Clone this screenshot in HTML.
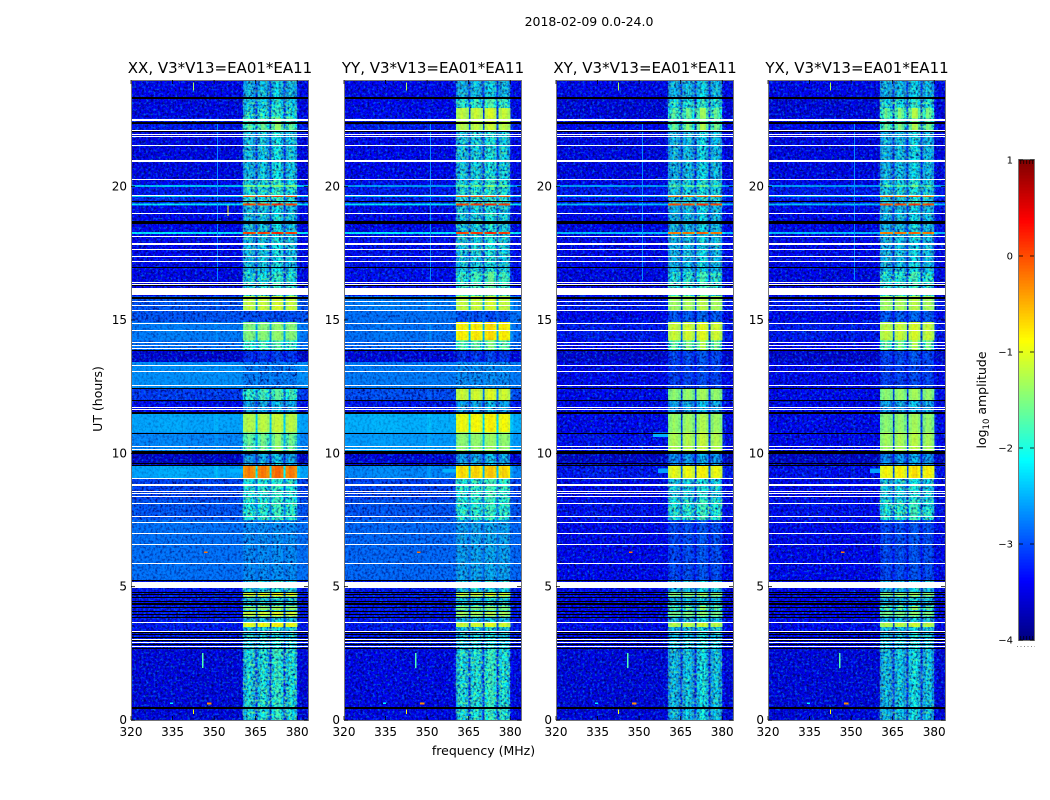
<!DOCTYPE html>
<html lang="en">
<head>
<meta charset="utf-8">
<title>2018-02-09 0.0-24.0</title>
<style>
html,body{margin:0;padding:0;background:#fff;width:1050px;height:800px;overflow:hidden}
svg{display:block}
text{font-family:"DejaVu Sans","Liberation Sans",sans-serif;fill:#000}
</style>
</head>
<body>
<svg id="figure" width="1050" height="800" viewBox="0 0 1050 800" xmlns="http://www.w3.org/2000/svg">
<defs>
<filter id="speckle-dark" x="0" y="0" width="100%" height="100%" color-interpolation-filters="sRGB">
<feTurbulence type="fractalNoise" baseFrequency="0.43 0.39" numOctaves="2" seed="3"/>
<feColorMatrix type="matrix" values="0 0 0 0 0  0 0 0 0 0  0 0 0 0 0.4  2.4 0 0 0 -1"/>
</filter>
<filter id="speckle-light" x="0" y="0" width="100%" height="100%" color-interpolation-filters="sRGB">
<feTurbulence type="fractalNoise" baseFrequency="0.41 0.44" numOctaves="2" seed="11"/>
<feColorMatrix type="matrix" values="0 0 0 0 0  0 0 0 0 0.6  0 0 0 0 1  0 1.9 0 0 -0.95"/>
</filter>
<filter id="speckle-green" x="0" y="0" width="100%" height="100%" color-interpolation-filters="sRGB">
<feTurbulence type="fractalNoise" baseFrequency="0.38 0.42" numOctaves="2" seed="23"/>
<feColorMatrix type="matrix" values="0 0 0 0 0.45  0 0 0 0 1  0 0 0 0 0.5  0 0 2.4 0 -1"/>
</filter>
</defs>
<rect width="1050" height="800" fill="#fff"/>
<text x="589" y="26" font-size="12.5" text-anchor="middle">2018-02-09 0.0-24.0</text>
<text x="483.5" y="755" font-size="12.5" text-anchor="middle">frequency (MHz)</text>
<text x="0" y="0" font-size="12.5" text-anchor="middle" transform="translate(102,399) rotate(-90)">UT (hours)</text>
<text x="0" y="0" font-size="12.5" text-anchor="middle" transform="translate(986,400) rotate(-90)">log<tspan font-size="8.5" dy="3">10</tspan><tspan dy="-3"> amplitude</tspan></text>
<g id="panels"></g>
<g id="colorbar"></g>
</svg>
<script>
// ---- axis tick data ----
const freqTicks = [320, 335, 350, 365, 380];
const hourTicks = [0, 5, 10, 15, 20];
const colorTicks = [1, 0, -1, -2, -3, -4];
const panelTitles = ['XX, V3*V13=EA01*EA11', 'YY, V3*V13=EA01*EA11', 'XY, V3*V13=EA01*EA11', 'YX, V3*V13=EA01*EA11'];

// ---- spectral channels (MHz edges) and how strongly each follows the RFI level ----
const channelEdges = [320,330,340,350,350.7,351.4,360.4,361,362,363,364,365,365.7,367,368,369,370,370.7,372,373,374,375,375.7,377,378,379,380,381,384];
const channelWeights = [0,0.02,0,0.04,0.06,0,0.65,0.85,1.05,0.9,0.75,0.2,0.9,1.1,1,0.75,0.15,1,1.22,1.22,0.95,0.18,0.85,1.08,1,0.75,0.08,0];

// ---- time bands: top of each band in hours (band ends at next value, last at 0) ----
const bandTops = [24,23.36,22.95,22.58,22.39,22.13,20.25,20.06,19.99,19.68,19.63,19.36,19.31,18.3,18.23,16.8,15.9,15.34,14.93,14.25,13.88,13.43,12.45,12,11.55,10.8,10.05,9.53,9.08,8.25,7.5,5.25,4.8,4.65,4.28,4.13,4.05,3.9,3.68,3.49,2.7];

// ---- log10 amplitude: quiet part of the band and RFI part of the band ----
const bgXX = [-3.4,-3.45,-3.45,-3.3,-3.3,-3.45,-3.4,-2.4,-3.3,-2.2,-3.2,-2.2,-3.4,-2.2,-3.4,-3.45,-2.95,-2.95,-2.75,-2.8,-3.55,-2.65,-3.1,-3.35,-2.55,-2.7,-3.6,-2.55,-3.05,-2.95,-2.8,-3.3,-3.3,-3.3,-3.3,-3.3,-3.3,-3.3,-3.3,-3.3,-3.5];
const rfiXX = [-2.4,-2.3,-2.2,-1.8,-1.7,-2.35,-2.2,-1.5,-2.2,0,-2.2,0.1,-2.35,0.1,-2.35,-2.2,-1.15,-3,-1.45,-1.9,-3.1,-2.75,-1.9,-2.5,-1.2,-1.6,-2.5,-0.25,-2.1,-2.05,-2.65,-2.3,-1,-2.3,-1.4,-2.3,-1.1,-2.4,-0.95,-2.3,-2.2];
const bgYY = [-3.4,-3.4,-3.4,-3.3,-3.3,-3.4,-3.35,-2.6,-3.3,-2.3,-3.25,-2.2,-3.4,-2.2,-3.35,-3.35,-2.75,-2.8,-2.8,-2.85,-3.5,-2.75,-3,-3.3,-2.5,-2.6,-3.5,-2.7,-3.05,-2.95,-2.85,-3.3,-3.3,-3.3,-3.3,-3.3,-3.3,-3.3,-3.3,-3.3,-3.45];
const rfiYY = [-2.4,-2,-1.15,-1.2,-1.2,-2.3,-2.2,-1.6,-2.2,-0.1,-2.2,0.1,-2.3,0.1,-2.3,-1.9,-1.15,-3,-0.8,-1.7,-3.1,-2.65,-1.1,-2.5,-0.9,-1.4,-2.5,-0.7,-2,-2.05,-2.55,-2.3,-1.1,-2.3,-1.5,-2.3,-1.3,-2.4,-1.1,-2.3,-2.15];
const bgXY = [-3.4,-3.5,-3.5,-3.4,-3.4,-3.45,-3.4,-2.6,-3.3,-2.4,-3.3,-2.4,-3.4,-2.4,-3.4,-3.45,-3.3,-3.4,-3.3,-3.4,-3.55,-3.4,-3.4,-3.4,-3.4,-3.35,-3.6,-3.3,-3.4,-3.35,-3.4,-3.4,-3.4,-3.4,-3.4,-3.4,-3.4,-3.4,-3.4,-3.4,-3.5];
const rfiXY = [-2.4,-2.2,-1.7,-1.8,-1.6,-2.4,-2.3,-1.7,-2.3,-0.2,-2.3,0.05,-2.4,-0.2,-2.4,-2.1,-1.3,-2.9,-1.1,-1.6,-3,-3.05,-1.4,-2.5,-1.35,-1.25,-2.6,-0.95,-2.3,-2.1,-3,-2.4,-1.4,-2.4,-1.7,-2.4,-1.5,-2.4,-1.2,-2.35,-2.35];
const bgYX = [-3.4,-3.5,-3.5,-3.4,-3.4,-3.45,-3.4,-2.6,-3.3,-2.4,-3.3,-2.4,-3.4,-2.4,-3.4,-3.45,-3.3,-3.4,-3.3,-3.4,-3.55,-3.4,-3.4,-3.4,-3.4,-3.4,-3.6,-3.35,-3.4,-3.35,-3.4,-3.4,-3.4,-3.4,-3.4,-3.4,-3.4,-3.4,-3.4,-3.4,-3.5];
const rfiYX = [-2.4,-2.2,-1.6,-1.8,-1.6,-2.4,-2.3,-1.7,-2.3,-0.2,-2.3,0.05,-2.4,-0.2,-2.4,-2.1,-1.3,-2.9,-1.15,-1.6,-3,-3.05,-1.4,-2.5,-1.4,-1.3,-2.6,-0.85,-2.3,-2.1,-3,-2.4,-1.4,-2.4,-1.7,-2.4,-1.5,-2.4,-1.2,-2.35,-2.35];
const panelBg = [bgXX, bgYY, bgXY, bgYX];
const panelRfi = [rfiXX, rfiYY, rfiXY, rfiYX];

// ---- isolated features: panel list, frequency, hour from, hour to, log10 amplitude, width in MHz ----
const spikePanels = [[0,1,2,3],[0,1,2,3],[0],[0,1,2,3],[0,1,2,3],[0,1,2,3],[0,1,2,3],[0,1],[2,3],[2],[0,1,2,3]];
const spikeFreqs = [345.6, 351, 354.8, 342.4, 342.4, 347.5, 346.3, 355.6, 356.8, 355, 334];
const spikeFrom = [1.95, 16.5, 18.9, 0.22, 23.6, 0.58, 6.26, 9.28, 9.26, 10.62, 0.6];
const spikeTo = [2.52, 22.4, 19.3, 0.4, 23.9, 0.66, 6.32, 9.42, 9.44, 10.78, 0.66];
const spikeValues = [-1.75, -2.7, -0.9, -0.9, -1.3, -0.3, -0.2, -2.5, -2.6, -2.5, -2.2];
const spikeWidths = [0.5, 0.45, 0.4, 0.4, 0.35, 1.6, 1.4, 4.8, 3.6, 5.4, 1.2];

// ---- flagged rows: blank (white) and zero (black) integrations ----
const whiteRows = [22.55,22.49,22.14,21.98,21.89,21.55,20.99,20.95,20.28,19.7,19,18.14,17.89,17.84,17.66,17.39,17.2,16.44,16.36,15.7,15.55,15.38,14.88,14.63,14.16,14.06,13.94,13.31,13.09,12.56,11.75,11.65,10.29,10.15,9.08,8.86,8.82,8.58,8.5,8.41,8.13,7.64,7.41,7,6.59,5.88,3.66,3.35,3.04,2.91,2.76];
const whiteBlockTops = [16.21, 5.19];
const whiteBlockEnds = [15.93, 4.96];
const blackRows = [23.37,23.31,22.43,22.38,22.1,19.47,17,16.31,13.88,12.44,12,10.75,9.64,9.56,5.25,4.81,4.71,4.6,4.46,4.39,4.34,4.25,4.1,3.98,3.85,3.29,3.21,3.12,2.99,2.84,2.7];
const blackBlockTops = [18.71, 15.88, 11.55, 10.09, 0.47];
const blackBlockEnds = [18.6, 15.81, 11.48, 9.98, 0.39];

// ---- layout ----
const svgNS = 'http://www.w3.org/2000/svg';
const panelLeft = [131, 344, 556, 768];
const panelWidth = 177;
const plotTop = 80, plotBottom = 720;
const freqMin = 320, pxPerMHz = 2.77;
const hourMax = 24;
const rowHeightHours = 0.05;
const rfiStartFreq = 360.4, rfiEndFreq = 380;

function xScale(f, left) { return left + (f - freqMin) * pxPerMHz; }
function yScale(h) { return plotBottom - (h / hourMax) * (plotBottom - plotTop); }
function clip01(v) { return Math.max(0, Math.min(1, v)); }
function jet(logAmp) {
  const x = clip01((logAmp + 4) / 5);
  const r = clip01(Math.min(4 * x - 1.5, -4 * x + 4.5));
  const g = clip01(Math.min(4 * x - 0.5, -4 * x + 3.5));
  const b = clip01(Math.min(4 * x + 0.5, -4 * x + 2.5));
  return 'rgb(' + Math.round(r * 255) + ',' + Math.round(g * 255) + ',' + Math.round(b * 255) + ')';
}
function make(tag, parent, attrs) {
  const el = document.createElementNS(svgNS, tag);
  for (const k in attrs) el.setAttribute(k, attrs[k]);
  parent.appendChild(el);
  return el;
}
function bandBottom(b) { return b + 1 < bandTops.length ? bandTops[b + 1] : 0; }
function cellValue(p, b, c) {
  const rfi = panelRfi[p][b];
  let w = channelWeights[c];
  // bright bands sit flat across each sub-band block
  if (rfi > -1.6 && w > 0.5) w = 1 + (w - 1) * 0.25;
  return panelBg[p][b] + (rfi - panelBg[p][b]) * w;
}

const panelsRoot = document.getElementById('panels');

panelTitles.forEach(function (title, p) {
  const left = panelLeft[p];
  const g = make('g', panelsRoot, {});
  
  

  const bands = make('g', g, { 'shape-rendering': 'crispEdges' });
  
  

  bandTops.forEach(function (top, b) {
    const y0 = yScale(top), y1 = yScale(bandBottom(b));
    channelWeights.forEach(function (w, c) {
      const x0 = xScale(channelEdges[c], left);
      const x1 = xScale(channelEdges[c + 1], left);
      const cell = make('rect', bands, {
        x: x0.toFixed(2), y: y0.toFixed(2),
        width: (x1 - x0 + 0.3).toFixed(2), height: (y1 - y0 + 0.3).toFixed(2),
        fill: jet(cellValue(p, b, c))
      });
      
      
    });
  });

  const dark = make('rect', g, {
    x: left, y: plotTop, width: panelWidth, height: plotBottom - plotTop,
    fill: '#000', filter: 'url(#speckle-dark)'
  });
  
  
  const light = make('rect', g, {
    x: left, y: plotTop, width: panelWidth, height: plotBottom - plotTop,
    fill: '#000', filter: 'url(#speckle-light)'
  });
  
  

  // greener speckle inside moderately bright RFI bands
  bandTops.forEach(function (top, b) {
    const rfi = panelRfi[p][b];
    const strength = clip01((rfi + 2.7) / 0.5);
    if (strength <= 0 || rfi > -1.5) return;
    const y0 = yScale(top), y1 = yScale(bandBottom(b));
    const green = make('rect', g, {
      x: xScale(rfiStartFreq, left).toFixed(2), y: y0.toFixed(2),
      width: ((rfiEndFreq - rfiStartFreq) * pxPerMHz).toFixed(2), height: (y1 - y0).toFixed(2),
      fill: '#000', filter: 'url(#speckle-green)', opacity: strength.toFixed(2)
    });
    
    
  });

  // bright cells and raised quiet bands sit above the noise floor, so they look smooth
  const brightLayer = make('g', g, { 'shape-rendering': 'crispEdges' });
  
  
  bandTops.forEach(function (top, b) {
    const y0 = yScale(top), y1 = yScale(bandBottom(b));
    channelWeights.forEach(function (w, c) {
      const v = cellValue(p, b, c);
      let strength = clip01((v + 2.0) / 0.6) * 0.85;
      if (strength <= 0 && w < 0.3) strength = clip01((v + 3.0) / 0.4) * 0.7;
      if (strength <= 0) return;
      const x0 = xScale(channelEdges[c], left);
      const x1 = xScale(channelEdges[c + 1], left);
      const cell = make('rect', brightLayer, {
        x: x0.toFixed(2), y: y0.toFixed(2),
        width: (x1 - x0 + 0.3).toFixed(2), height: (y1 - y0 + 0.3).toFixed(2),
        fill: jet(v), opacity: strength.toFixed(2)
      });
      
      
    });
  });

  const spikes = make('g', g, { 'shape-rendering': 'crispEdges' });
  
  
  spikeFreqs.forEach(function (f, i) {
    if (spikePanels[i].indexOf(p) < 0) return;
    const x = xScale(f, left);
    const y0 = yScale(spikeTo[i]), y1 = yScale(spikeFrom[i]);
    const spike = make('rect', spikes, {
      x: x.toFixed(2), y: y0.toFixed(2),
      width: Math.max(1, spikeWidths[i] * pxPerMHz).toFixed(2),
      height: Math.max(1, y1 - y0).toFixed(2),
      fill: jet(spikeValues[i])
    });
    
    
  });

  const flags = make('g', g, { 'shape-rendering': 'crispEdges' });
  
  
  function flagRow(topHour, endHour, colour, name) {
    const y0 = Math.round(yScale(topHour));
    const h = Math.max(1, Math.round(yScale(endHour) - yScale(topHour)));
    const r = make('rect', flags, { x: left, y: y0, width: panelWidth, height: h, fill: colour });
    
    
  }
  blackRows.forEach(function (h) { flagRow(h, h - rowHeightHours, '#000', 'zero-row'); });
  blackBlockTops.forEach(function (h, i) { flagRow(h, blackBlockEnds[i], '#000', 'zero-block'); });
  whiteRows.forEach(function (h) { flagRow(h, h - rowHeightHours, '#fff', 'blank-row'); });
  whiteBlockTops.forEach(function (h, i) { flagRow(h, whiteBlockEnds[i], '#fff', 'blank-block'); });

  const frame = make('rect', g, {
    x: left + 0.5, y: plotTop + 0.5, width: panelWidth, height: plotBottom - plotTop,
    fill: 'none', stroke: '#777', 'stroke-width': 1
  });
  
  

  const titleEl = make('text', g, { x: left + panelWidth / 2 + 0.5, y: 73, 'font-size': 15, 'text-anchor': 'middle' });
  
  
  titleEl.textContent = title;

  freqTicks.forEach(function (f) {
    const x = xScale(f, left);
    [[plotBottom, plotBottom - 4], [plotTop, plotTop + 4]].forEach(function (ends) {
      const t = make('line', g, { x1: x, x2: x, y1: ends[0], y2: ends[1], stroke: '#000', 'stroke-width': 0.8 });
      
      
    });
    const lab = make('text', g, { x: x, y: 736, 'font-size': 12, 'text-anchor': 'middle' });
    
    
    lab.textContent = f;
  });

  hourTicks.forEach(function (h) {
    const y = yScale(h);
    [[left, left + 4], [left + panelWidth, left + panelWidth - 4]].forEach(function (ends) {
      const t = make('line', g, { x1: ends[0], x2: ends[1], y1: y, y2: y, stroke: '#000', 'stroke-width': 0.8 });
      
      
    });
    const lab = make('text', g, { x: left - 4, y: y + 4, 'font-size': 12, 'text-anchor': 'end' });
    
    
    lab.textContent = h;
  });
});

// ---- colorbar ----
const cbRoot = document.getElementById('colorbar');
const cbLeft = 1019, cbWidth = 15, cbTop = 160, cbBottom = 640;
const colorMax = 1, colorMin = -4;
const colorSteps = 160;
function cbScale(v) { return cbBottom - (v - colorMin) / (colorMax - colorMin) * (cbBottom - cbTop); }

const ramp = make('g', cbRoot, { 'shape-rendering': 'crispEdges' });


for (let i = 0; i < colorSteps; i++) {
  const v0 = colorMin + (colorMax - colorMin) * i / colorSteps;
  const v1 = colorMin + (colorMax - colorMin) * (i + 1) / colorSteps;
  const swatch = make('rect', ramp, {
    x: cbLeft, y: cbScale(v1).toFixed(2), width: cbWidth,
    height: (cbScale(v0) - cbScale(v1) + 0.5).toFixed(2), fill: jet((v0 + v1) / 2)
  });
  
  
}
const cbFrame = make('rect', cbRoot, {
  x: cbLeft - 0.5, y: cbTop - 0.5, width: cbWidth + 1, height: cbBottom - cbTop + 1,
  fill: 'none', stroke: '#777', 'stroke-width': 1
});



colorTicks.forEach(function (v) {
  const y = cbScale(v);
  [[cbLeft, cbLeft + 4], [cbLeft + cbWidth, cbLeft + cbWidth - 4]].forEach(function (ends) {
    const t = make('line', cbRoot, { x1: ends[0], x2: ends[1], y1: y, y2: y, stroke: '#000', 'stroke-width': 0.8 });
    
    
  });
  const lab = make('text', cbRoot, { x: 1013, y: y + 3.5, 'font-size': 10, 'text-anchor': 'end' });
  
  
  lab.textContent = String(v).replace('-', '\u2212');
});
[0.15, 0.35, 0.55, 0.75, 0.95].forEach(function (frac) {
  const x = cbLeft + cbWidth * frac - 0.5;
  [[cbTop, cbTop + 4], [cbBottom, cbBottom - 4]].forEach(function (ends) {
    const t = make('line', cbRoot, { x1: x, x2: x, y1: ends[0], y2: ends[1], stroke: '#000', 'stroke-width': 0.7 });
    
    
  });
});
const dots = make('line', cbRoot, { x1: 1017, x2: 1035, y1: 646.5, y2: 646.5, stroke: '#888', 'stroke-width': 1, 'stroke-dasharray': '1 2.5' });


</script>
</body>
</html>
